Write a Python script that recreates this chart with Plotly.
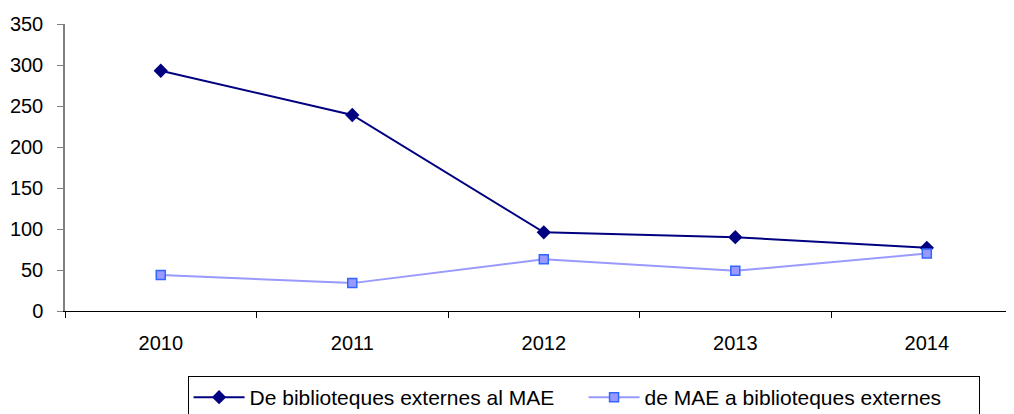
import plotly.graph_objects as go

years = ["2010", "2011", "2012", "2013", "2014"]
externes_al_mae = [293, 239, 96, 90, 77]
mae_a_externes = [44, 34, 63, 49, 70]
y_ticks = [0, 50, 100, 150, 200, 250, 300, 350]

font = dict(family="Liberation Sans, Arial, sans-serif", size=20, color="#000000")

fig = go.Figure()
fig.add_trace(go.Scatter(
    x=years, y=externes_al_mae,
    mode="lines+markers",
    name="De biblioteques externes al MAE",
    line=dict(color="#000080", width=2),
    marker=dict(symbol="diamond", size=11, color="#000080"),
))
fig.add_trace(go.Scatter(
    x=years, y=mae_a_externes,
    mode="lines+markers",
    name="de MAE a biblioteques externes",
    line=dict(color="#9999FF", width=2),
    marker=dict(symbol="square", size=9, color="#9999FF",
                line=dict(color="#3366FF", width=1.5)),
))

# the page body adds an 8px margin, so the figure is a bit smaller
fig.update_layout(
    width=1006, height=406,
    margin=dict(l=57, r=1, t=16, b=103, autoexpand=False),
    paper_bgcolor="white", plot_bgcolor="white",
    font=font,
    showlegend=True,
    legend=dict(
        orientation="h",
        x=0.547, xanchor="center",
        y=-0.2265, yanchor="top",
        bordercolor="#000000", borderwidth=1,
        font=dict(family=font["family"], size=21, color="#000000"),
        itemwidth=51,
        entrywidth=329,
        tracegroupgap=0,
    ),
)
fig.update_xaxes(
    type="category",
    range=[-0.5, 4.45],
    automargin=False,
    showgrid=False, zeroline=False,
    showline=True, linecolor="#000000", linewidth=1,
    ticks="outside", ticklen=6, tickcolor="#000000",
    tickson="boundaries",
    ticklabelstandoff=14,
)
fig.update_yaxes(
    range=[0, 350],
    tickvals=y_ticks,
    automargin=False,
    showgrid=False, zeroline=False,
    showline=True, linecolor="#808080", linewidth=1.5,
    ticks="outside", ticklen=6, tickcolor="#808080",
    ticklabelstandoff=10,
)

fig.write_html("out.html")
